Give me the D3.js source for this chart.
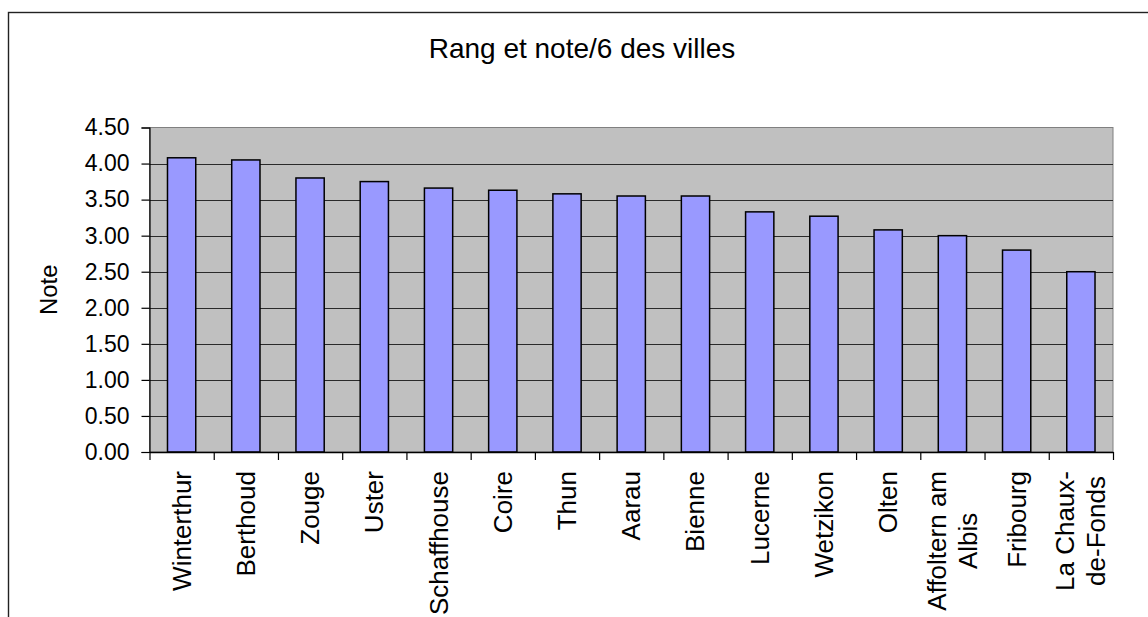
<!DOCTYPE html>
<html>
<head>
<meta charset="utf-8">
<script src="https://cdn.jsdelivr.net/npm/d3@7"></script>
<style>
  body { margin: 0; background: #fff; }
  svg { display: block; font-family: "Liberation Sans", Arial, sans-serif; }
</style>
</head>
<body>
<svg id="chart" width="1148" height="617"></svg>
<script>
// chart values
var cities = ["Winterthur", "Berthoud", "Zouge", "Uster", "Schaffhouse", "Coire", "Thun",
              "Aarau", "Bienne", "Lucerne", "Wetzikon", "Olten", "Affoltern am Albis",
              "Fribourg", "La Chaux-de-Fonds"];
var notes = [4.08, 4.05, 3.80, 3.75, 3.66, 3.63, 3.58, 3.55, 3.55, 3.33, 3.27, 3.08, 3.00, 2.80, 2.50];
// how the long names wrap under the axis
var labelLines = {
    "Affoltern am Albis": ["Affoltern am", "Albis"],
    "La Chaux-de-Fonds": ["La Chaux-", "de-Fonds"]
};
var yTicks = [0, 0.5, 1, 1.5, 2, 2.5, 3, 3.5, 4, 4.5];
var title = "Rang et note/6 des villes";
var yTitle = "Note";

var svg = d3.select("#chart");
var plot = { left: 149.5, top: 127.5, right: 1113, bottom: 452 };

// outer frame (runs off the right and bottom of the picture)
svg.append("rect")
    .attr("x", 8.5).attr("y", 12.5)
    .attr("width", 1160).attr("height", 700)
    .attr("fill", "#fff").attr("stroke", "#222").attr("stroke-width", 1.4);

svg.append("text")
    .attr("x", 582).attr("y", 58)
    .attr("text-anchor", "middle")
    .attr("font-size", 28)
    .text(title);

var x = d3.scaleBand()
    .domain(cities)
    .range([plot.left, plot.right])
    .paddingInner(0.56)
    .paddingOuter(0.28);

var xEdges = d3.scaleLinear().domain([0, cities.length]).range([plot.left, plot.right]);

var y = d3.scaleLinear().domain([0, 4.5]).range([plot.bottom, plot.top]);

// plot area
svg.append("rect")
    .attr("x", plot.left).attr("y", plot.top)
    .attr("width", plot.right - plot.left).attr("height", plot.bottom - plot.top)
    .attr("fill", "#c0c0c0").attr("stroke", "#808080").attr("stroke-width", 1);

// gridlines
svg.append("g")
    .selectAll("line")
    .data(yTicks.filter(function (d) { return d > 0 && d < 4.5; }))
    .enter().append("line")
    .attr("x1", plot.left).attr("x2", plot.right)
    .attr("y1", function (d) { return Math.round(y(d)) + 0.5; })
    .attr("y2", function (d) { return Math.round(y(d)) + 0.5; })
    .attr("stroke", "#2a2a2a").attr("stroke-width", 1);

// bars
svg.append("g")
    .selectAll("rect")
    .data(notes)
    .enter().append("rect")
    .attr("x", function (d, i) { return x(cities[i]); })
    .attr("y", function (d) { return y(d); })
    .attr("width", x.bandwidth())
    .attr("height", function (d) { return y(0) - y(d); })
    .attr("fill", "#9999ff")
    .attr("stroke", "#000").attr("stroke-width", 1.5);

// y axis
var yAxis = svg.append("g")
    .attr("transform", "translate(" + plot.left + ",0)")
    .call(d3.axisLeft(y).tickValues(yTicks).tickFormat(d3.format(".2f"))
        .tickSize(8).tickPadding(12));
yAxis.select(".domain").attr("stroke", "#000").attr("stroke-width", 1.2);
yAxis.selectAll(".tick line").attr("stroke", "#000").attr("stroke-width", 1.2);
yAxis.selectAll(".tick text")
    .attr("font-size", 23)
    .attr("font-family", "Liberation Sans, Arial, sans-serif")
    .attr("fill", "#000");

// x axis: ticks sit on the category edges
var xAxis = svg.append("g")
    .attr("transform", "translate(0," + plot.bottom + ")")
    .call(d3.axisBottom(xEdges).tickValues(d3.range(cities.length + 1))
        .tickFormat("").tickSize(8).tickSizeOuter(0));
xAxis.select(".domain").attr("stroke", "#000").attr("stroke-width", 1.5);
xAxis.selectAll(".tick line").attr("stroke", "#000").attr("stroke-width", 1.2);

// category labels, rotated, wrapped and centred as a block
var labelTop = 471;
var lineGap = 31;
var labels = svg.append("g").attr("font-size", 26);
cities.forEach(function (c) {
    var lines = labelLines[c] || [c];
    var cx = x(c) + x.bandwidth() / 2;
    var t = labels.append("text").attr("text-anchor", "middle");
    lines.forEach(function (s, k) {
        t.append("tspan")
            .attr("x", 0)
            .attr("dy", k === 0 ? (-(lines.length - 1) * lineGap / 2 + 9) : lineGap)
            .text(s);
    });
    var maxLen = 0;
    t.selectAll("tspan").each(function () {
        maxLen = Math.max(maxLen, this.getComputedTextLength());
    });
    t.attr("transform", "translate(" + cx + "," + (labelTop + maxLen / 2) + ") rotate(-90)");
});

// y title
svg.append("text")
    .attr("transform", "translate(57," + ((plot.top + plot.bottom) / 2) + ") rotate(-90)")
    .attr("text-anchor", "middle")
    .attr("font-size", 24)
    .text(yTitle);
</script>
</body>
</html>
